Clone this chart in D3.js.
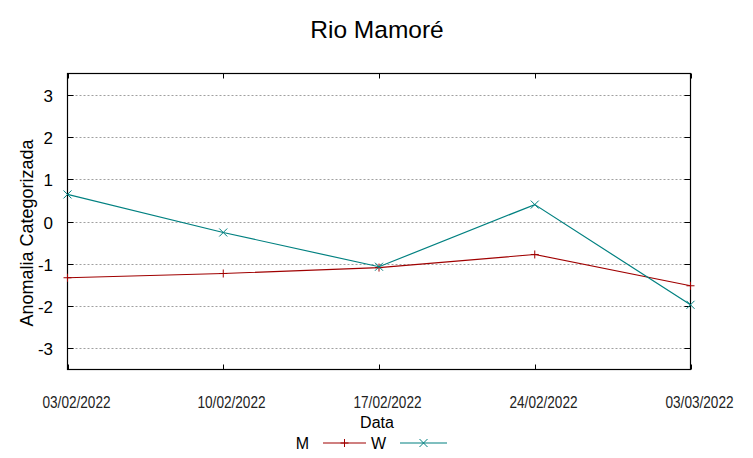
<!DOCTYPE html>
<html>
<head>
<meta charset="utf-8">
<script src="https://cdn.jsdelivr.net/npm/d3@7"></script>
<style>
  body { margin: 0; background: #fff; }
  text { font-family: "Liberation Sans", Arial, sans-serif; fill: #000; }
</style>
</head>
<body>
<svg width="753" height="458"></svg>
<script>
let width = 753, height = 458;

// data
var dates = ["03/02/2022", "10/02/2022", "17/02/2022", "24/02/2022", "03/03/2022"];
var mValues = [-1.33, -1.23, -1.09, -0.78, -1.52];
var wValues = [0.64, -0.26, -1.07, 0.40, -1.97];
var yTicks = [-3, -2, -1, 0, 1, 2, 3];

let svg = d3.select("svg");

let plotLeft = 67.5, plotRight = 690.5, plotTop = 73.5, plotBottom = 369.5;

var x = d3.scalePoint().domain(dates).range([plotLeft, plotRight]);
var y = d3.scaleLinear().domain([-3.5, 3.5]).range([plotBottom, plotTop]);

// grid
svg.append("g")
    .selectAll("line")
    .data(yTicks)
    .enter()
    .append("line")
    .attr("x1", plotLeft).attr("x2", plotRight)
    .attr("y1", d => Math.round(y(d)) + 0.5)
    .attr("y2", d => Math.round(y(d)) + 0.5)
    .attr("stroke", "#a0a0a0")
    .attr("stroke-width", 1)
    .attr("stroke-dasharray", "2,2");

// y ticks (left + mirrored right)
let ty = svg.append("g");
yTicks.forEach(function(d) {
    let yy = Math.round(y(d)) + 0.5;
    ty.append("line").attr("x1", plotLeft).attr("x2", plotLeft + 6).attr("y1", yy).attr("y2", yy).attr("stroke", "#000");
    ty.append("line").attr("x1", plotRight - 6).attr("x2", plotRight).attr("y1", yy).attr("y2", yy).attr("stroke", "#000");
    ty.append("text")
        .attr("x", 53).attr("y", yy + 6)
        .attr("text-anchor", "end")
        .style("font-size", "17px")
        .text(d);
});

// x ticks (bottom + mirrored top); labels sit a bit right of the tick like the original
let tx = svg.append("g");
dates.forEach(function(d) {
    let xx = Math.round(x(d)) + 0.5;
    tx.append("line").attr("x1", xx).attr("x2", xx).attr("y1", plotBottom).attr("y2", plotBottom - 5).attr("stroke", "#000");
    tx.append("line").attr("x1", xx).attr("x2", xx).attr("y1", plotTop).attr("y2", plotTop + 5).attr("stroke", "#000");
    tx.append("text")
        .attr("x", xx + 8).attr("y", 408)
        .attr("text-anchor", "middle")
        .attr("textLength", 68)
        .attr("lengthAdjust", "spacingAndGlyphs")
        .style("font-family", "'Liberation Sans Narrow', 'Liberation Sans', sans-serif")
        .style("font-size", "16px")
        .style("fill", "#222")
        .text(d);
});

// border
svg.append("rect")
    .attr("x", plotLeft).attr("y", plotTop)
    .attr("width", plotRight - plotLeft).attr("height", plotBottom - plotTop)
    .attr("fill", "none")
    .attr("stroke", "#000")
    .attr("stroke-width", 1.2);

var series = [
    { name: "M", values: mValues, color: "#a00000", mark: "plus" },
    { name: "W", values: wValues, color: "#008080", mark: "cross" }
];

let line = d3.line()
    .x((d, i) => x(dates[i]))
    .y(d => y(d));

function drawMark(g, cx, cy, kind, color) {
    let s = 4;
    if (kind == "plus") {
        g.append("path").attr("d", "M" + (cx - s) + "," + cy + "H" + (cx + s) + "M" + cx + "," + (cy - s) + "V" + (cy + s))
            .attr("stroke", color).attr("stroke-width", 1);
    } else {
        g.append("path").attr("d", "M" + (cx - s) + "," + (cy - s) + "L" + (cx + s) + "," + (cy + s) + "M" + (cx - s) + "," + (cy + s) + "L" + (cx + s) + "," + (cy - s))
            .attr("stroke", color).attr("stroke-width", 1);
    }
}

series.forEach(function(s) {
    svg.append("path")
        .datum(s.values)
        .attr("d", line)
        .attr("fill", "none")
        .attr("stroke", s.color)
        .attr("stroke-width", 1.2);
    let g = svg.append("g");
    s.values.forEach(function(v, i) {
        drawMark(g, x(dates[i]), y(v), s.mark, s.color);
    });
});

// title & axis labels
svg.append("text")
    .attr("x", 377).attr("y", 38)
    .attr("text-anchor", "middle")
    .style("font-size", "24.5px")
    .text("Rio Mamoré");

svg.append("text")
    .attr("transform", "translate(33,233) rotate(-90)")
    .attr("text-anchor", "middle")
    .style("font-size", "18px")
    .text("Anomalia Categorizada");

svg.append("text")
    .attr("x", 377).attr("y", 428)
    .attr("text-anchor", "middle")
    .style("font-size", "16px")
    .text("Data");

// legend
let leg = svg.append("g");
let legItems = [
    { label: "M", lx: 309, x1: 323, x2: 366 },
    { label: "W", lx: 386, x1: 400, x2: 447 }
];
legItems.forEach(function(it, i) {
    let s = series[i];
    leg.append("text")
        .attr("x", it.lx).attr("y", 449)
        .attr("text-anchor", "end")
        .style("font-size", "16px")
        .text(it.label);
    leg.append("line")
        .attr("x1", it.x1).attr("x2", it.x2)
        .attr("y1", 443).attr("y2", 443)
        .attr("stroke", s.color).attr("stroke-width", 1.2);
    drawMark(leg, (it.x1 + it.x2) / 2, 443, s.mark, s.color);
});
</script>
</body>
</html>
